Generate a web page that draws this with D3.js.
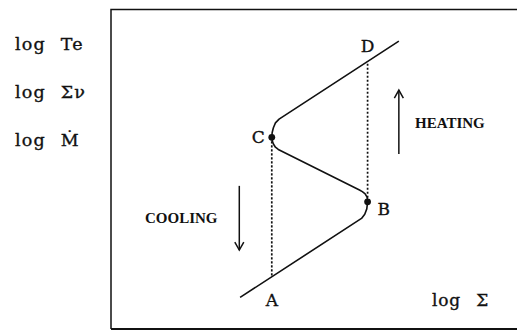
<!DOCTYPE html>
<html><head><meta charset="utf-8">
<script src="https://cdn.jsdelivr.net/npm/d3@7"></script>
<style>body{margin:0;background:#fff}svg{display:block}</style>
</head><body>
<script>
// S-curve (thermal equilibrium curve), arbitrary log units
const curveX = [31.8, 61.7, 62.5, 63.0, 63.2, 63.1, 62.6, 61.9, 61.2, 41.2, 40.5, 40.0, 39.7, 39.6, 39.7, 40.0, 40.5, 41.4, 70.9];
const curveY = [ 9.9, 34.6, 35.9, 37.6, 39.8, 41.2, 42.3, 43.0, 43.5, 56.2, 56.9, 57.9, 59.0, 60.0, 61.5, 63.0, 64.5, 65.7, 90.1];
// marked points
const pointNames = ["C", "B"];
const pointX = [39.6, 63.2];
const pointY = [60.0, 39.8];
// dashed jumps: C -> A (down), B -> D (up)
const jumpNames = ["A", "D"];
const jumpX = [39.6, 63.2];
const jumpFromY = [60.0, 39.8];
const jumpToY = [16.4, 83.7];
const yLabels = ["log Te", "log Σν", "log Ṁ"];
const xLabel = "log Σ";
const arrowNames = ["HEATING", "COOLING"];
// arrows: x position, tail y, head y
const arrowX = [70.9, 31.6];
const arrowFrom = [54.8, 44.8];
const arrowTo = [74.8, 24.7];

const W = 517, H = 331;
const svg = d3.select("body").append("svg").attr("width", W).attr("height", H);
const x = d3.scaleLinear().domain([0, 100]).range([111, 517]);
const y = d3.scaleLinear().domain([0, 100]).range([329, 9.5]);
const serif = "'DejaVu Serif', serif";
const ink = "#111";

// frame
svg.append("path").attr("d", `M${W+2},${y(100)}H${x(0)}V${y(0)}`)
  .attr("fill", "none").attr("stroke", ink).attr("stroke-width", 1.5);
svg.append("line").attr("x1", x(0)).attr("x2", W + 2).attr("y1", y(0)).attr("y2", y(0))
  .attr("stroke", ink).attr("stroke-width", 2.2);

// dashed jumps
jumpX.forEach((d, i) => {
  svg.append("line").attr("x1", x(d)).attr("x2", x(d))
    .attr("y1", y(jumpFromY[i])).attr("y2", y(jumpToY[i]))
    .attr("stroke", ink).attr("stroke-width", 1.7).attr("stroke-dasharray", "2.2,1.8");
});

// curve
const pts = curveX.map((d, i) => [d, curveY[i]]);
svg.append("path").datum(pts)
  .attr("d", d3.line().x(d => x(d[0])).y(d => y(d[1])))
  .attr("fill", "none").attr("stroke", ink).attr("stroke-width", 1.6).attr("stroke-linejoin", "round");

// dots
pointX.forEach((d, i) => {
  svg.append("circle").attr("cx", x(d)).attr("cy", y(pointY[i])).attr("r", 3.4).attr("fill", ink);
});

// text helper
const txt = (t, px, py, size, anchor) => svg.append("text").attr("x", px).attr("y", py)
  .attr("text-anchor", anchor || "start").attr("font-family", serif).attr("font-size", size)
  .attr("fill", ink).attr("stroke", ink).attr("stroke-width", 0.35).text(t);
txt(pointNames[0], x(pointX[0]) - 7, y(pointY[0]) + 6, 17, "end");
txt(pointNames[1], x(pointX[1]) + 10, y(pointY[1]) + 13, 17);
txt(jumpNames[0], x(jumpX[0]), y(jumpToY[0]) + 29, 17, "middle");
txt(jumpNames[1], x(jumpX[1]), y(jumpToY[1]) - 10, 17, "middle");
txt(xLabel, 432, 305.5, 17).attr("word-spacing", 9).attr("letter-spacing", 0.8);

// y labels
yLabels.forEach((t, i) => {
  txt(t, 15, 50 + i * 47.8, 17.5).attr("word-spacing", 8).attr("letter-spacing", 1.2);
});

// arrows
arrowX.forEach((ax, i) => {
  const px = x(ax), y0 = y(arrowFrom[i]), y1 = y(arrowTo[i]);
  const g = svg.append("g").attr("stroke", ink).attr("stroke-width", 1.5).attr("fill", "none");
  g.append("line").attr("x1", px).attr("x2", px).attr("y1", y0).attr("y2", y1);
  const s = Math.sign(y1 - y0);
  g.append("path").attr("d", `M${px - 4.5},${y1 - s * 8}L${px},${y1}L${px + 4.5},${y1 - s * 8}`);
});
const bold = (t, px, py) => svg.append("text").attr("x", px).attr("y", py)
  .attr("font-family", "'Liberation Serif', serif").attr("font-weight", "bold")
  .attr("font-size", 15).attr("fill", ink).text(t);
bold(arrowNames[0], 415, 127.5);
bold(arrowNames[1], 145, 223.3);
</script>
</body></html>
